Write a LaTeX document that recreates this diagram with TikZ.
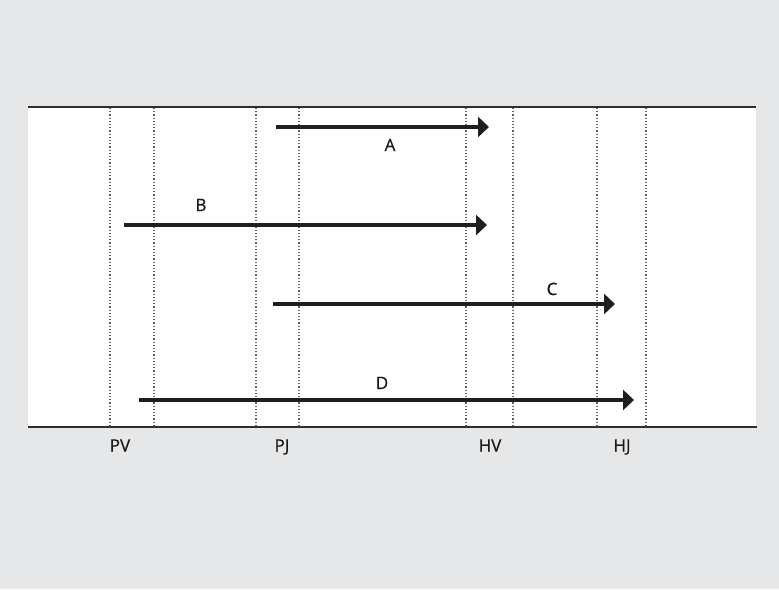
\documentclass[tikz,border=0pt]{standalone}
\usepackage{fontspec}
\setmainfont{Open Sans}
\newfontfamily\labelfont{Open Sans}[FakeBold=0.5]
\usetikzlibrary{arrows.meta}
\definecolor{pagebg}{HTML}{E6E7E8}
\definecolor{rulegray}{HTML}{2E2E2E}
\tikzset{
  band/.style={draw=rulegray, line width=1.6pt},
  marker/.style={draw=rulegray!75, line width=1.1pt, dash pattern=on 1.2pt off 2pt},
  period/.style={draw=black!88, line width=3.2pt, -{Triangle[length=11pt,width=20pt]}},
  lbl/.style={font=\labelfont\fontsize{17}{20}\selectfont, text=black!90, inner sep=0pt, anchor=base}
}
\begin{document}
\begin{tikzpicture}[x=1pt,y=-1pt]
  \useasboundingbox (0,0) rectangle (779,589);
  \fill[pagebg] (0,0) rectangle (779,589);
  \fill[white] (28,107) rectangle (756,427);
  % boundary rules of the time band
  \coordinate (tl) at (28,107); \coordinate (tr) at (756,107);
  \coordinate (bl) at (28,427); \coordinate (br) at (757,427);
  \draw[band] (tl) -- (tr);
  \draw[band] (bl) -- (br);
  % dotted markers
  \foreach \x [count=\i] in {110,154,256,299,466,513,597,646} {
    \coordinate (m\i t) at (\x,108);
    \coordinate (m\i b) at (\x,427);
    \draw[marker] (m\i t) -- (m\i b);
  }
  % arrows
  \coordinate (a1) at (276,127); \coordinate (a2) at (489,127);
  \coordinate (b1) at (124,225); \coordinate (b2) at (487,225);
  \coordinate (c1) at (273,304); \coordinate (c2) at (615,304);
  \coordinate (d1) at (139,400); \coordinate (d2) at (634,400);
  \draw[period] (a1) -- (a2);
  \draw[period] (b1) -- (b2);
  \draw[period] (c1) -- (c2);
  \draw[period] (d1) -- (d2);
  \node[lbl] (la) at (390,151) {A};
  \node[lbl] (lb) at (201,211) {B};
  \node[lbl] (lc) at (552,295) {C};
  \node[lbl] (ld) at (382,389) {D};
  % axis labels
  \node[lbl] (pv) at (120,451.5) {PV};
  \node[lbl] (pj) at (282,451.5) {PJ};
  \node[lbl] (hv) at (490,451.5) {HV};
  \node[lbl] (hj) at (622,451.5) {HJ};
\end{tikzpicture}
\end{document}
